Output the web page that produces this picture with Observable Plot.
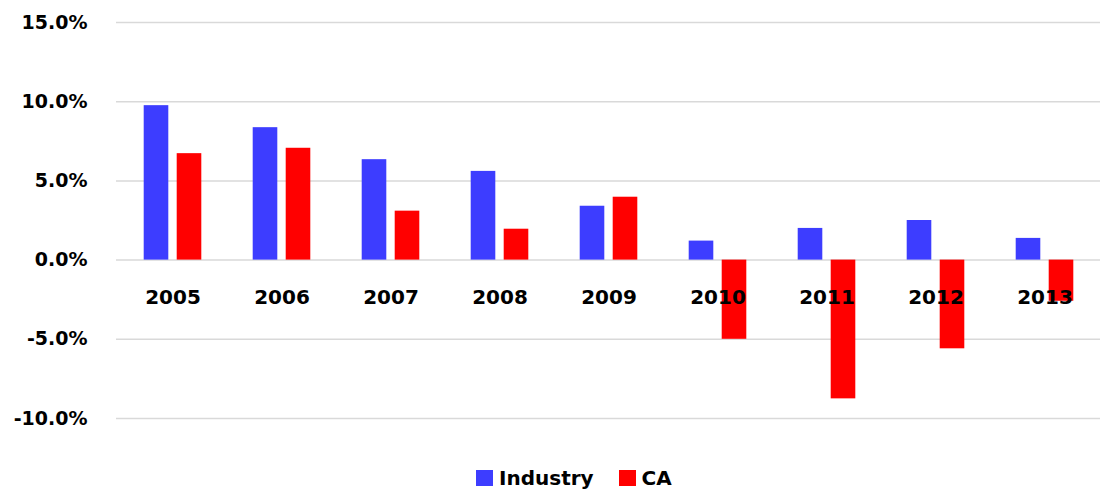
<!DOCTYPE html>
<html>
<head>
<meta charset="utf-8">
<script src="https://cdn.jsdelivr.net/npm/d3@7"></script>
<script src="https://cdn.jsdelivr.net/npm/@observablehq/plot@0.6"></script>
<style>
  html, body { margin: 0; padding: 0; background: #fff; }
  body { width: 1105px; height: 493px; overflow: hidden; font-family: "DejaVu Sans", sans-serif; }
  #chart svg { display: block; }
  #legend { display: flex; justify-content: flex-start; align-items: center; height: 38px; padding-top: 4px; padding-left: 476px; font-weight: bold; font-size: 20px; color: #000; }
  .item { display: flex; align-items: center; margin-right: 25px; }
  .sw { width: 17px; height: 16px; margin-right: 6px; }
</style>
</head>
<body>
<div id="chart"></div>
<div id="legend"></div>
<script>
const years = ["2005","2006","2007","2008","2009","2010","2011","2012","2013"];
const seriesNames = ["Industry", "CA"];
const industry = [0.0975, 0.0836, 0.0634, 0.0560, 0.0340, 0.0120, 0.0200, 0.0250, 0.0137];
const ca = [0.0672, 0.0706, 0.0309, 0.0195, 0.0397, -0.0500, -0.0876, -0.0560, -0.0260];
const colors = ["#3d3dff", "#ff0000"];
const yTicks = [-0.10, -0.05, 0, 0.05, 0.10, 0.15];

const indRows = years.map((y, i) => ({year: y, series: "Industry", value: industry[i]}));
const caRows = years.map((y, i) => ({year: y, series: "CA", value: ca[i]}));
const fmt = d => d3.format(".1%")(d).replace("\u2212", "-");

const chart = Plot.plot({
  width: 1105,
  height: 455,
  marginLeft: 116,
  marginRight: 5,
  marginTop: 22,
  marginBottom: 37,
  style: {fontFamily: "'DejaVu Sans', sans-serif", fontWeight: "bold", fontSize: "19px", color: "#000", background: "#fff"},
  x: {domain: years, axis: null, padding: 0},
  y: {domain: [-0.10, 0.15], axis: null},
  color: {domain: seriesNames, range: colors},
  marks: [
    Plot.ruleY(yTicks, {stroke: "#d9d9d9", strokeWidth: 1.5}),
    Plot.axisY(yTicks, {tickSize: 0, tickFormat: fmt, dx: -20, fontSize: 19, fontWeight: "bold", fill: "#000", label: null}),
    Plot.barY(indRows, {x: "year", y: "value", fill: "series", insetLeft: 25.7, insetRight: 58.7}),
    Plot.barY(caRows, {x: "year", y: "value", fill: "series", insetLeft: 58.7, insetRight: 25.7}),
    Plot.text(years, {x: d => d, y: () => 0, text: d => d, dy: 37, fill: "#000", fontSize: 20, fontWeight: "bold"})
  ]
});
document.getElementById("chart").appendChild(chart);

const legend = document.getElementById("legend");
seriesNames.forEach((s, i) => {
  const item = document.createElement("div");
  item.className = "item";
  const sw = document.createElement("div");
  sw.className = "sw";
  sw.style.background = colors[i];
  const lab = document.createElement("span");
  lab.textContent = s;
  item.appendChild(sw);
  item.appendChild(lab);
  legend.appendChild(item);
});
</script>
</body>
</html>
